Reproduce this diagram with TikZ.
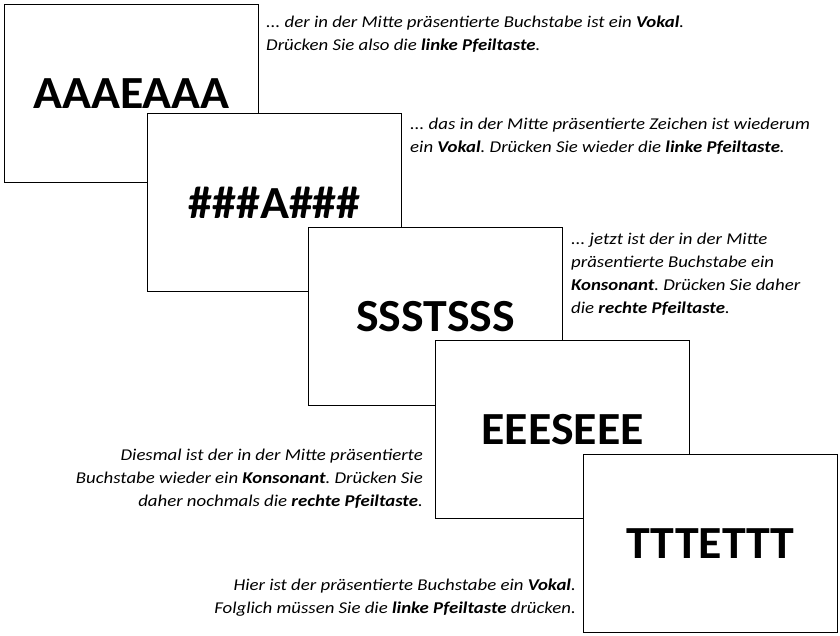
\documentclass[tikz,border=0pt]{standalone}
\usepackage{fontspec}
\setmainfont{Carlito}
\newfontfamily\notefont[FakeStretch=1.14]{Carlito}
\newfontfamily\bigfont[FakeStretch=1.04]{Carlito}
\begin{document}
\frenchspacing
\begin{tikzpicture}[x=1pt,y=-1pt,
  card/.style={draw=black, line width=1.1pt, fill=white, anchor=north west,
    minimum width=254pt, minimum height=178pt, inner sep=0pt,
    font=\bigfont\fontsize{46}{50}\selectfont\bfseries},
  note/.style={inner sep=0pt, font=\notefont\fontsize{16.5}{23}\selectfont\itshape},
  noteL/.style={note, anchor=north west, align=left},
  noteR/.style={note, anchor=north east, align=right}]
\useasboundingbox (0,0) rectangle (840,635);
\node[card] (c1) at (4,4) {AAAEAAA};
\node[noteL] (t1) at (266,11.6) {\strut... der in der Mitte präsentierte Buchstabe ist ein \textbf{Vokal}.\\Drücken Sie also die \textbf{linke Pfeiltaste}.};
\node[card] (c2) at (147,113) {\#\#\#A\#\#\#};
\node[noteL] (t2) at (410,113) {\strut... das in der Mitte präsentierte Zeichen ist wiederum\\ein \textbf{Vokal}. Drücken Sie wieder die \textbf{linke Pfeiltaste}.};
\node[card] (c3) at (308,227) {SSSTSSS};
\node[noteL] (t3) at (571,228) {\strut... jetzt ist der in der Mitte\\präsentierte Buchstabe ein\\\textbf{Konsonant}. Drücken Sie daher\\die \textbf{rechte Pfeiltaste}.};
\node[card] (c4) at (435,340) {EEESEEE};
\node[noteR] (t4) at (423,444) {\strut Diesmal ist der in der Mitte präsentierte\\Buchstabe wieder ein \textbf{Konsonant}. Drücken Sie\\daher nochmals die \textbf{rechte Pfeiltaste}.};
\node[card] (c5) at (583,454) {TTTETTT};
\node[noteR] (t5) at (576,574) {\strut Hier ist der präsentierte Buchstabe ein \textbf{Vokal}.\\Folglich müssen Sie die \textbf{linke Pfeiltaste} drücken.};
\end{tikzpicture}
\end{document}
